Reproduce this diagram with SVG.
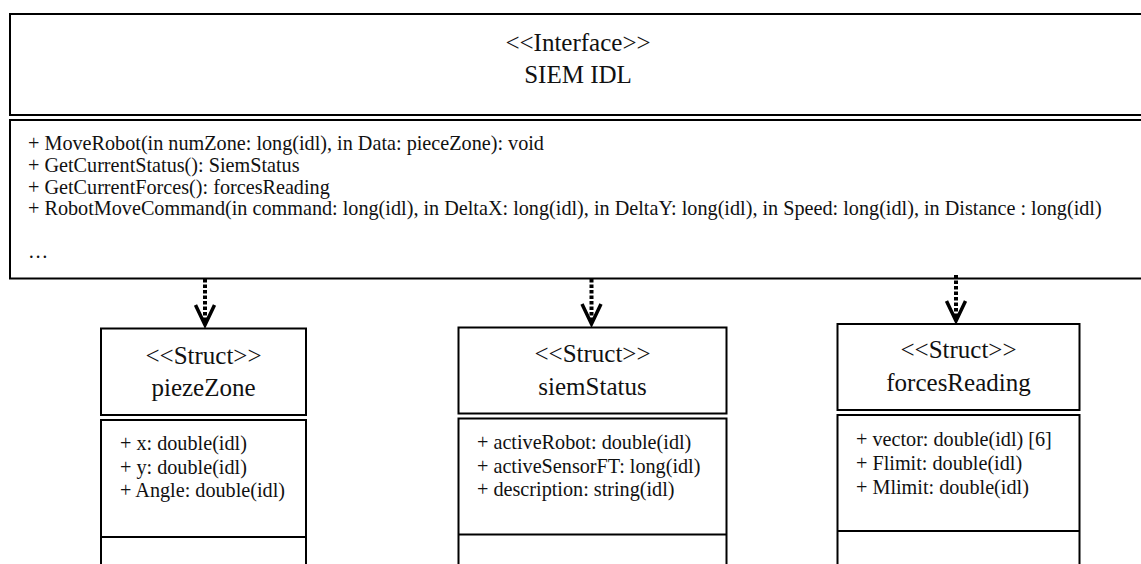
<svg xmlns="http://www.w3.org/2000/svg" width="1141" height="564" viewBox="0 0 1141 564">
<style>
  .box { fill: #fff; stroke: #000; stroke-width: 2; }
  .sep { stroke: #000; stroke-width: 2; }
  text { font-family: 'Liberation Serif', 'Times New Roman', Times, serif; fill: #111; }
  .title { font-size: 25px; text-anchor: middle; }
  .op { font-size: 20.2px; }
  .attr { font-size: 20.2px; }
  .dep { fill: none; stroke: #000; stroke-width: 4; stroke-dasharray: 3.5 2; }
  .head { fill: none; stroke: #000; stroke-width: 3.5; stroke-linejoin: miter; }
</style>
<rect width="1141" height="564" fill="#fff"/>

<g id="siem-idl" font-family="Liberation Serif, serif">
  <rect class="box" x="10" y="14" width="1145" height="101"/>
  <rect class="box" x="10" y="120" width="1145" height="158.5"/>
  <text class="title" x="578" y="51">&lt;&lt;Interface&gt;&gt;</text>
  <text class="title" x="578" y="83">SIEM IDL</text>
  <text class="op" x="28" y="150">+ MoveRobot(in numZone: long(idl), in Data: pieceZone): void</text>
  <text class="op" x="28" y="172">+ GetCurrentStatus(): SiemStatus</text>
  <text class="op" x="28" y="193.5">+ GetCurrentForces(): forcesReading</text>
  <text class="op" x="28" y="215">+ RobotMoveCommand(in command: long(idl), in DeltaX: long(idl), in DeltaY: long(idl), in Speed: long(idl), in Distance : long(idl)</text>
  <text class="op" x="28" y="258">…</text>
</g>

<g id="piezeZone" font-family="Liberation Serif, serif">
  <rect class="box" x="101" y="328.5" width="205" height="86.5"/>
  <rect class="box" x="101" y="420" width="205" height="180"/>
  <line class="sep" x1="101" y1="537" x2="306" y2="537"/>
  <text class="title" x="203.5" y="364">&lt;&lt;Struct&gt;&gt;</text>
  <text class="title" x="203.5" y="396">piezeZone</text>
  <text class="attr" x="120" y="450">+ x: double(idl)</text>
  <text class="attr" x="120" y="473.5">+ y: double(idl)</text>
  <text class="attr" x="120" y="497">+ Angle: double(idl)</text>
</g>

<g id="siemStatus" font-family="Liberation Serif, serif">
  <rect class="box" x="458.5" y="327.5" width="268" height="86"/>
  <rect class="box" x="458.5" y="418.5" width="268" height="180"/>
  <line class="sep" x1="458.5" y1="534.5" x2="726.5" y2="534.5"/>
  <text class="title" x="592.5" y="362">&lt;&lt;Struct&gt;&gt;</text>
  <text class="title" x="592.5" y="395">siemStatus</text>
  <text class="attr" x="477" y="449">+ activeRobot: double(idl)</text>
  <text class="attr" x="477" y="472.5">+ activeSensorFT: long(idl)</text>
  <text class="attr" x="477" y="496">+ description: string(idl)</text>
</g>

<g id="forcesReading" font-family="Liberation Serif, serif">
  <rect class="box" x="837.5" y="324" width="242" height="86"/>
  <rect class="box" x="837.5" y="415" width="242" height="180"/>
  <line class="sep" x1="837.5" y1="531" x2="1079.5" y2="531"/>
  <text class="title" x="958.5" y="358">&lt;&lt;Struct&gt;&gt;</text>
  <text class="title" x="958.5" y="391">forcesReading</text>
  <text class="attr" x="856" y="446">+ vector: double(idl) [6]</text>
  <text class="attr" x="856" y="470">+ Flimit: double(idl)</text>
  <text class="attr" x="856" y="494">+ Mlimit: double(idl)</text>
</g>

<g id="connectors">
  <line class="dep" x1="205" y1="279" x2="205" y2="324"/>
  <polyline class="head" points="195.5,305 205,325 214.5,305"/>
  <line class="dep" x1="591.5" y1="279" x2="591.5" y2="323"/>
  <polyline class="head" points="582,304 591.5,324 601,304"/>
  <line class="dep" x1="956" y1="275" x2="956" y2="320"/>
  <polyline class="head" points="946.5,301 956,321 965.5,301"/>
</g>
</svg>
